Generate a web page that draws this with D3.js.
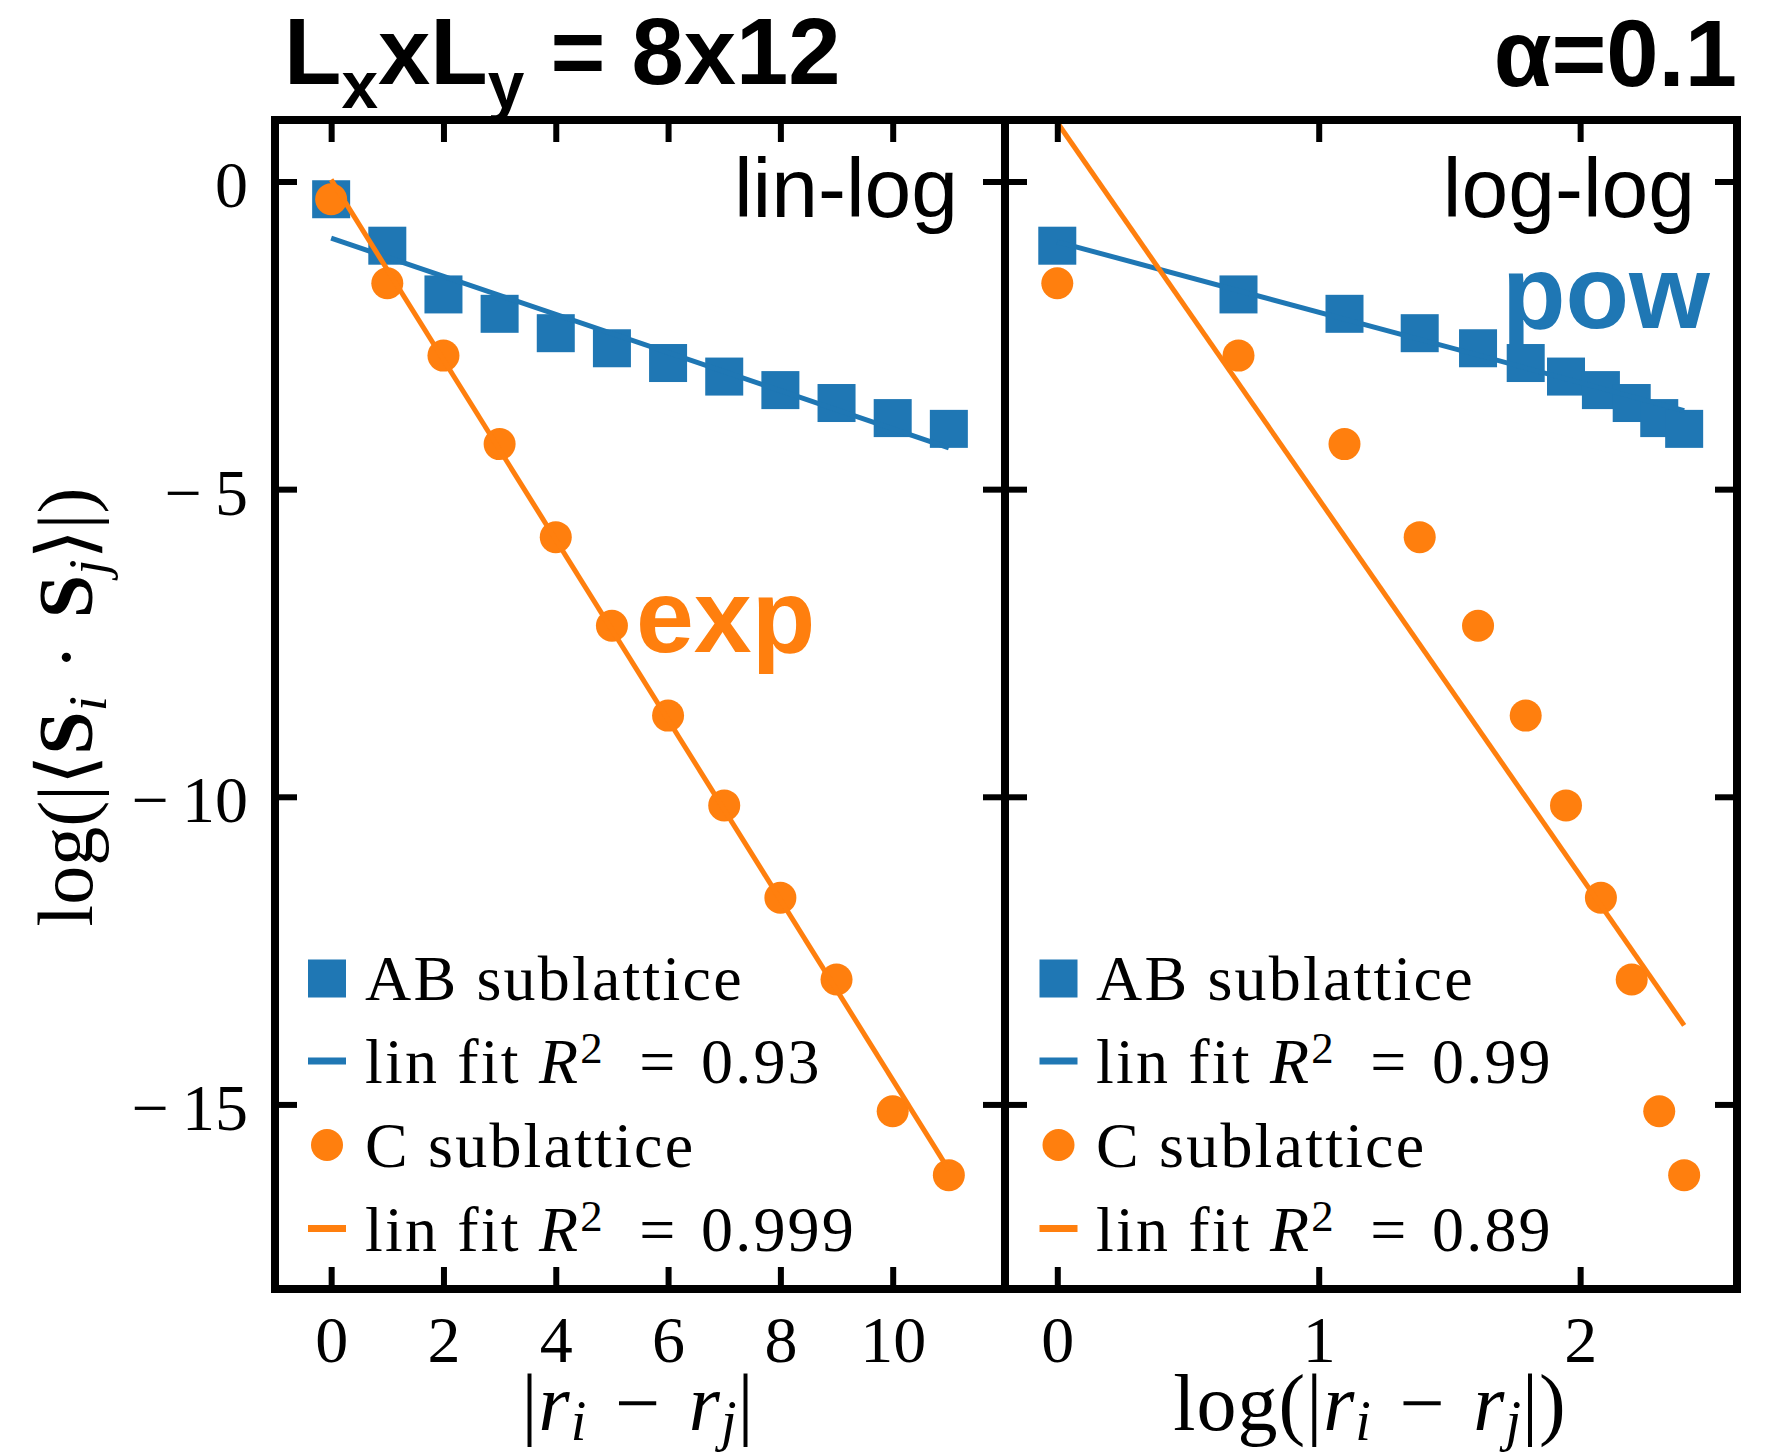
<!DOCTYPE html>
<html>
<head>
<meta charset="utf-8">
<script src="https://cdn.jsdelivr.net/npm/d3@7"></script>
<style>
  html, body { margin: 0; padding: 0; background: #fff; }
</style>
</head>
<body>
<div id="chart"></div>
<script>
// distances |r_i - r_j|
const dist = [0, 1, 2, 3, 4, 5, 6, 7, 8, 9, 10, 11];
// log(|<S_i . S_j>|)
const abCorr = [-0.288, -1.043, -1.835, -2.15, -2.465, -2.71, -2.95, -3.17, -3.39, -3.60, -3.845, -4.02];
const cCorr = [-0.288, -1.654, -2.829, -4.268, -5.78, -7.22, -8.68, -10.14, -11.64, -12.97, -15.11, -16.15];

// linear fits [intercept, slope]
const fitLinLogAB = [-0.92, -0.31];
const fitLinLogC = [0.03, -1.463];
const fitLogLogAB = [-0.98, -1.144];
const fitLogLogC = [0.96, -6.12];

const r2LinLog = ['0.93', '0.999'];
const r2LogLog = ['0.99', '0.89'];

const xTicksLin = [0, 2, 4, 6, 8, 10];
const xTicksLog = [0, 1, 2];
const yTicks = [0, -5, -10, -15];

const BLUE = '#1f77b4';
const ORANGE = '#ff7f0e';
const SERIF = '"Liberation Serif", "DejaVu Serif", serif';
const SANS = '"Liberation Sans", Arial, sans-serif';

const W = 1779, H = 1455;
const plotTop = 120, plotBottom = 1289;

const svg = d3.select('#chart').append('svg')
  .attr('width', W)
  .attr('height', H)
  .style('display', 'block');

const y = d3.scaleLinear().domain([-18, 1]).range([plotBottom, plotTop]);

// write text made of pieces (italic, bold, sub/superscript)
function richText(sel, parts, size, subShift = 0.25, supShift = 0.32) {
  let shift = 0;
  parts.forEach(p => {
    const want = p.sub ? size * subShift : p.sup ? -size * supShift : 0;
    const ts = sel.append('tspan')
      .attr('dy', want - shift)
      .text(p.t);
    shift = want;
    if (p.sub || p.sup) ts.attr('font-size', size * 0.7);
    if (p.i) ts.attr('font-style', 'italic');
    if (p.b) ts.attr('font-weight', 'bold');
  });
  return sel;
}

const tickFmt = d => (d < 0 ? '\u2212\u2009' + (-d) : String(d));

function drawPanel(opt) {
  const x = opt.x;
  const [x0, x1] = x.range();
  const g = svg.append('g');
  const clipId = 'clip' + opt.id;
  svg.append('clipPath').attr('id', clipId)
    .append('rect')
    .attr('x', x0).attr('y', plotTop)
    .attr('width', x1 - x0).attr('height', plotBottom - plotTop);

  const plot = g.append('g').attr('clip-path', `url(#${clipId})`);

  const pts = dist.map((d, i) => ({ d, ab: abCorr[i], c: cCorr[i] }))
    .filter(p => opt.xf(p.d) !== null);

  const line = d3.line().x(d => x(d[0])).y(d => y(d[1]));
  const fitPts = (f) => {
    const xs = d3.extent(pts, p => opt.xf(p.d));
    return xs.map(v => [v, f[0] + f[1] * v]);
  };

  const sq = 38;
  plot.selectAll('rect.ab')
    .data(pts)
    .join('rect')
    .attr('class', 'ab')
    .attr('x', p => x(opt.xf(p.d)) - sq / 2)
    .attr('y', p => y(p.ab) - sq / 2)
    .attr('width', sq)
    .attr('height', sq)
    .attr('fill', BLUE);

  plot.append('path')
    .attr('d', line(fitPts(opt.fitAB)))
    .attr('fill', 'none')
    .attr('stroke', BLUE)
    .attr('stroke-width', 5);

  plot.selectAll('circle.c')
    .data(pts)
    .join('circle')
    .attr('class', 'c')
    .attr('cx', p => x(opt.xf(p.d)))
    .attr('cy', p => y(p.c))
    .attr('r', 16)
    .attr('fill', ORANGE);

  plot.append('path')
    .attr('d', line(fitPts(opt.fitC)))
    .attr('fill', 'none')
    .attr('stroke', ORANGE)
    .attr('stroke-width', 5);

  // axes, ticks pointing inward
  const styleAxis = (a) => {
    a.select('.domain').remove();
    a.selectAll('.tick line').attr('stroke', '#000').attr('stroke-width', 6);
    a.selectAll('.tick text')
      .attr('font-family', SERIF)
      .attr('font-size', 66)
      .attr('fill', '#000');
  };

  g.append('g')
    .attr('transform', `translate(0,${plotBottom})`)
    .call(d3.axisBottom(x).tickValues(opt.xTicks).tickSize(-22).tickPadding(26).tickFormat(tickFmt))
    .call(styleAxis);

  g.append('g')
    .attr('transform', `translate(0,${plotTop})`)
    .call(d3.axisTop(x).tickValues(opt.xTicks).tickSize(-22).tickFormat(''))
    .call(styleAxis);

  const yl = g.append('g')
    .attr('transform', `translate(${x0},0)`)
    .call(d3.axisLeft(y).tickValues(yTicks).tickSize(-22).tickPadding(27)
      .tickFormat(opt.yLabels ? tickFmt : ''))
    .call(styleAxis);
  yl.selectAll('.tick text').attr('dy', '0.38em');

  g.append('g')
    .attr('transform', `translate(${x1},0)`)
    .call(d3.axisRight(y).tickValues(yTicks).tickSize(-22).tickFormat(''))
    .call(styleAxis);

  // frame
  g.append('rect')
    .attr('x', x0).attr('y', plotTop)
    .attr('width', x1 - x0).attr('height', plotBottom - plotTop)
    .attr('fill', 'none')
    .attr('stroke', '#000')
    .attr('stroke-width', 8);

  // corner label
  g.append('text')
    .attr('x', opt.tagX).attr('y', 217)
    .attr('text-anchor', 'end')
    .attr('font-family', SANS)
    .attr('font-size', 84)
    .text(opt.tag);

  // legend
  const lx = opt.legX;
  const rows = [1000, 1083, 1167, 1251];
  const leg = g.append('g');
  leg.append('rect').attr('x', lx - 19).attr('y', 978.5 - 19).attr('width', 38).attr('height', 38).attr('fill', BLUE);
  leg.append('line').attr('x1', lx - 19).attr('x2', lx + 19).attr('y1', 1061).attr('y2', 1061)
    .attr('stroke', BLUE).attr('stroke-width', 7);
  leg.append('circle').attr('cx', lx).attr('cy', 1145).attr('r', 16).attr('fill', ORANGE);
  leg.append('line').attr('x1', lx - 19).attr('x2', lx + 19).attr('y1', 1228.5).attr('y2', 1228.5)
    .attr('stroke', ORANGE).attr('stroke-width', 7);

  const labels = [
    [{ t: 'AB sublattice' }],
    [{ t: 'lin fit ' }, { t: 'R', i: true }, { t: '2', sup: true }, { t: '\u2002=\u2004' + opt.r2[0] }],
    [{ t: 'C sublattice' }],
    [{ t: 'lin fit ' }, { t: 'R', i: true }, { t: '2', sup: true }, { t: '\u2002=\u2004' + opt.r2[1] }],
  ];
  labels.forEach((parts, i) => {
    const t = leg.append('text')
      .attr('x', opt.legTextX).attr('y', rows[i])
      .attr('font-family', SERIF)
      .attr('font-size', 64)
      .attr('letter-spacing', 2.2)
      .attr('xml:space', 'preserve');
    richText(t, parts, 64);
  });

  // x axis title
  const xt = g.append('text')
    .attr('x', opt.xTitleX).attr('y', 1430)
    .attr('text-anchor', 'middle')
    .attr('font-family', SERIF)
    .attr('font-size', 80)
    .attr('letter-spacing', 1)
    .attr('xml:space', 'preserve');
  richText(xt, opt.xTitle, 80, 0.12);
}

drawPanel({
  id: 'L',
  x: d3.scaleLinear().domain([-1, 12]).range([275, 1005]),
  xf: d => d,
  xTicks: xTicksLin,
  fitAB: fitLinLogAB,
  fitC: fitLinLogC,
  r2: r2LinLog,
  yLabels: true,
  tag: 'lin-log',
  tagX: 958,
  legX: 327,
  legTextX: 365,
  xTitleX: 638,
  xTitle: [{ t: '|' }, { t: 'r', i: true }, { t: 'i', i: true, sub: true }, { t: '\u2004−\u2004' }, { t: 'r', i: true }, { t: 'j', i: true, sub: true }, { t: '|' }],
});

drawPanel({
  id: 'R',
  x: d3.scaleLinear().domain([-0.2, 2.6]).range([1005, 1737]),
  xf: d => (d > 0 ? Math.log(d) : null),
  xTicks: xTicksLog,
  fitAB: fitLogLogAB,
  fitC: fitLogLogC,
  r2: r2LogLog,
  yLabels: false,
  tag: 'log-log',
  tagX: 1695,
  legX: 1058.5,
  legTextX: 1096,
  xTitleX: 1370,
  xTitle: [{ t: 'log(|' }, { t: 'r', i: true }, { t: 'i', i: true, sub: true }, { t: '\u2004−\u2004' }, { t: 'r', i: true }, { t: 'j', i: true, sub: true }, { t: '|)' }],
});

// y axis title
const ytl = svg.append('text')
  .attr('transform', 'translate(92,707) rotate(-90)')
  .attr('text-anchor', 'middle')
  .attr('font-family', SERIF)
  .attr('font-size', 78)
  .attr('xml:space', 'preserve');
richText(ytl, [
  { t: 'log(|⟨' }, { t: 'S', b: true }, { t: 'i', i: true, sub: true },
  { t: '\u2004·\u2004' }, { t: 'S', b: true }, { t: 'j', i: true, sub: true }, { t: '⟩|)' },
], 78, 0.18);

// figure titles
const title = svg.append('text')
  .attr('x', 284).attr('y', 84)
  .attr('font-family', SANS)
  .attr('font-weight', 'bold')
  .attr('font-size', 94);
richText(title, [
  { t: 'L' }, { t: 'x', sub: true }, { t: 'xL' }, { t: 'y', sub: true }, { t: ' = 8x12' },
], 94);

svg.append('text')
  .attr('x', 1737).attr('y', 86)
  .attr('text-anchor', 'end')
  .attr('font-family', SANS)
  .attr('font-weight', 'bold')
  .attr('font-size', 94)
  .text('α=0.1');

svg.append('text')
  .attr('x', 636).attr('y', 652)
  .attr('font-family', SANS)
  .attr('font-weight', 'bold')
  .attr('font-size', 104)
  .attr('fill', ORANGE)
  .text('exp');

svg.append('text')
  .attr('x', 1502).attr('y', 328)
  .attr('font-family', SANS)
  .attr('font-weight', 'bold')
  .attr('font-size', 104)
  .attr('fill', BLUE)
  .text('pow');
</script>
</body>
</html>
